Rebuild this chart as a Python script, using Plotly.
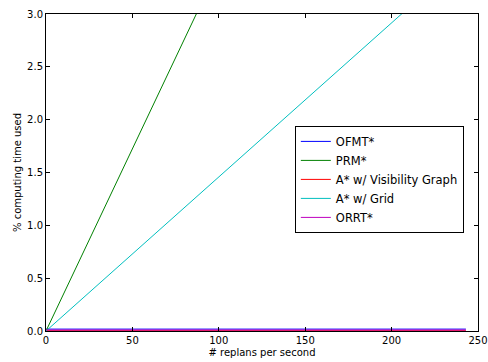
import plotly.graph_objects as go

replans = [0, 50, 100, 150, 200, 243]
ofmt = [0.018, 0.018, 0.018, 0.018, 0.018, 0.018]
prm = [0.0, 1.725, 3.45, 5.175, 6.9, 8.38]
astar_vis = [0.003, 0.003, 0.003, 0.003, 0.003, 0.003]
astar_grid = [0.0, 0.729, 1.458, 2.187, 2.916, 3.543]
orrt = [0.01, 0.01, 0.01, 0.01, 0.01, 0.01]

series = [
    ("OFMT*", ofmt, "#0000ff"),
    ("PRM*", prm, "#008000"),
    ("A* w/ Visibility Graph", astar_vis, "#ff0000"),
    ("A* w/ Grid", astar_grid, "#00bfbf"),
    ("ORRT*", orrt, "#bf00bf"),
]

fig = go.Figure()
for name, vals, col in series:
    fig.add_trace(go.Scatter(x=replans, y=vals, mode="lines", name=name,
                             line=dict(color=col, width=1)))

axis_common = dict(showgrid=False, zeroline=False, showline=True, linecolor="black",
                   linewidth=1, mirror="allticks", ticks="inside", ticklen=4,
                   tickcolor="black", tickfont=dict(size=10, color="black"),
                   automargin=False)
fig.update_xaxes(range=[0, 250], tickvals=[0, 50, 100, 150, 200, 250],
                 title=dict(text="# replans per second", font=dict(size=10, color="black"), standoff=3),
                 **axis_common)
fig.update_yaxes(range=[0, 3.0], tickvals=[0, 0.5, 1.0, 1.5, 2.0, 2.5, 3.0],
                 tickformat=".1f",
                 title=dict(text="% computing time used", font=dict(size=10, color="black"), standoff=3),
                 **axis_common)
fig.update_layout(
    width=488, height=362,
    margin=dict(l=46, r=10, t=14, b=31),
    paper_bgcolor="white", plot_bgcolor="white",
    font=dict(family="DejaVu Sans", size=10, color="black"),
    legend=dict(x=0.576, y=0.647, xanchor="left", yanchor="top",
                bordercolor="black", borderwidth=1, bgcolor="white",
                font=dict(size=11.5), tracegroupgap=0),
)
fig.write_html("out.html", config={"displayModeBar": False},
               post_script="document.body.style.margin='0';")
